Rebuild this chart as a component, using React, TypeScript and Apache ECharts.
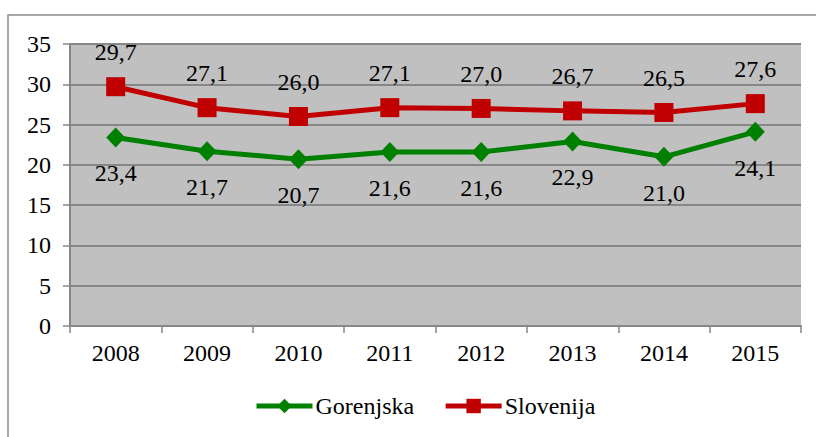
import React, { useEffect, useRef } from "react";
import * as echarts from "echarts";

const years = ["2008", "2009", "2010", "2011", "2012", "2013", "2014", "2015"];
const gorenjska = [23.4, 21.7, 20.7, 21.6, 21.6, 22.9, 21.0, 24.1];
const slovenija = [29.7, 27.1, 26.0, 27.1, 27.0, 26.7, 26.5, 27.6];
const seriesNames = ["Gorenjska", "Slovenija"];

const FONT = "Liberation Serif";
const FS = 24;
const fmt = (p: any) => Number(p.value).toFixed(1).replace(".", ",");

export default function App() {
  const ref = useRef<HTMLDivElement>(null);
  useEffect(() => {
    if (!ref.current) return;
    const chart = echarts.init(ref.current, undefined, { renderer: "svg" });
    chart.setOption({
      animation: false,
      backgroundColor: "#ffffff",
      textStyle: { fontFamily: FONT },
      graphic: [
        {
          type: "rect",
          shape: { x: 8, y: 15, width: 900, height: 500 },
          style: { fill: "none", stroke: "#8c8c8c", lineWidth: 1.5 },
          silent: true,
        },
      ],
      grid: {
        left: 70,
        right: 15,
        top: 44,
        bottom: 111,
        show: true,
        backgroundColor: "#c0c0c0",
        borderWidth: 0,
      },
      legend: {
        data: seriesNames,
        left: 254,
        top: 394,
        padding: 0,
        itemWidth: 56,
        itemHeight: 18,
        itemGap: 29,
        lineStyle: { width: 5 },
        textStyle: { fontFamily: FONT, fontSize: FS, color: "#000", padding: [0, 0, 0, -2] },
      },
      xAxis: {
        type: "category",
        data: years,
        boundaryGap: true,
        axisLine: { show: true, lineStyle: { color: "#878787", width: 2 } },
        axisTick: { show: true, length: 7, lineStyle: { color: "#878787", width: 1.5 } },
        axisLabel: { color: "#000", fontFamily: FONT, fontSize: FS, margin: 15 },
        splitLine: { show: false },
      },
      yAxis: {
        type: "value",
        min: 0,
        max: 35,
        interval: 5,
        axisLine: { show: true, lineStyle: { color: "#878787", width: 2 } },
        axisTick: { show: true, length: 7, lineStyle: { color: "#878787", width: 1.5 } },
        axisLabel: { color: "#000", fontFamily: FONT, fontSize: FS, margin: 19 },
        splitLine: { show: true, lineStyle: { color: "#878787", width: 2 } },
      },
      series: [
        {
          name: seriesNames[0],
          type: "line",
          data: gorenjska,
          symbol: "diamond",
          symbolSize: [19, 20],
          itemStyle: { color: "#008000" },
          lineStyle: { color: "#008000", width: 5 },
          label: {
            show: true,
            position: "bottom",
            distance: 14,
            formatter: fmt,
            color: "#000",
            fontFamily: FONT,
            fontSize: FS,
          },
        },
        {
          name: seriesNames[1],
          type: "line",
          data: slovenija,
          symbol: "rect",
          symbolSize: 19,
          itemStyle: { color: "#c00000" },
          lineStyle: { color: "#c00000", width: 5 },
          label: {
            show: true,
            position: "top",
            distance: 13,
            formatter: fmt,
            color: "#000",
            fontFamily: FONT,
            fontSize: FS,
          },
        },
      ],
    });
    return () => chart.dispose();
  }, []);
  return (
    <div
      ref={ref}
      style={{ position: "fixed", left: 0, top: 0, width: 816, height: 437 }}
    />
  );
}
